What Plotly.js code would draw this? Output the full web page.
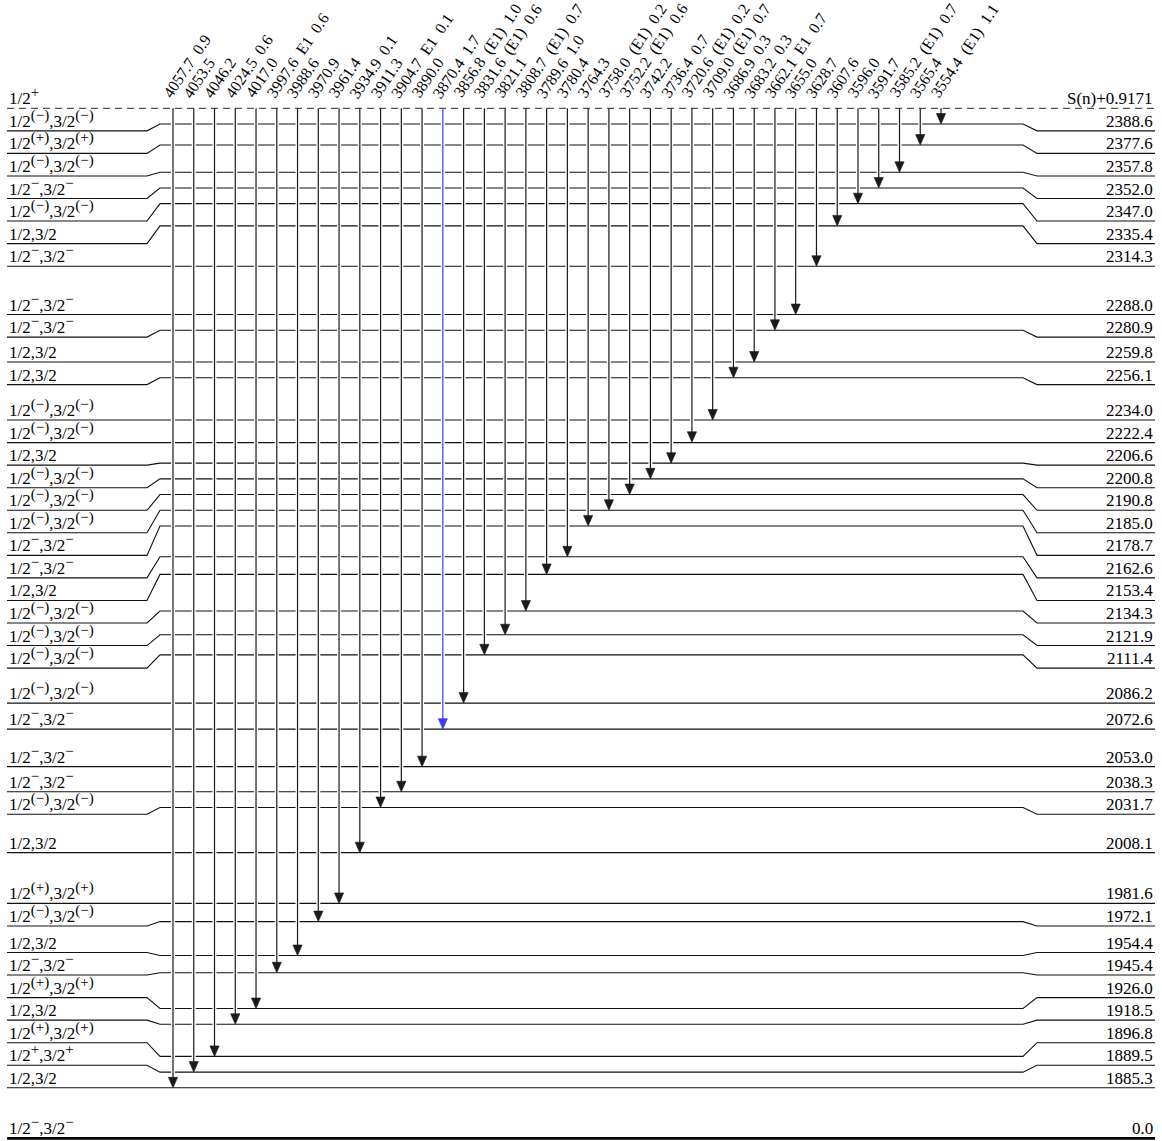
<!DOCTYPE html>
<html><head><meta charset="utf-8">
<script src="https://cdn.plot.ly/plotly-3.0.1.min.js"></script>
<style>html,body{margin:0;padding:0;background:#fff}</style>
</head><body><div id="chart" style="width:1162px;height:1141px"></div>
<script>
// ---------------- data ----------------
const levelEnergies = [2388.6, 2377.6, 2357.8, 2352.0, 2347.0, 2335.4, 2314.3, 2288.0, 2280.9, 2259.8,
  2256.1, 2234.0, 2222.4, 2206.6, 2200.8, 2190.8, 2185.0, 2178.7, 2162.6, 2153.4,
  2134.3, 2121.9, 2111.4, 2086.2, 2072.6, 2053.0, 2038.3, 2031.7, 2008.1, 1981.6,
  1972.1, 1954.4, 1945.4, 1926.0, 1918.5, 1896.8, 1889.5, 1885.3];
const levelParity = ['(−)', '(+)', '(−)', '−', '(−)', '', '−', '−', '−', '',
  '', '(−)', '(−)', '', '(−)', '(−)', '(−)', '−', '−', '',
  '(−)', '(−)', '(−)', '(−)', '−', '−', '−', '(−)', '', '(+)',
  '(−)', '', '−', '(+)', '', '(+)', '+', ''];
const groundEnergy = 0.0;
const groundParity = '−';
const captureLabel = 'S(n)+0.9171';
const captureParity = '+';

const gammaEnergies = [4057.7, 4053.5, 4046.2, 4024.5, 4017.0, 3997.6, 3988.6, 3970.9, 3961.4, 3934.9,
  3911.3, 3904.7, 3890.0, 3870.4, 3856.8, 3831.6, 3821.1, 3808.7, 3789.6, 3780.4,
  3764.3, 3758.0, 3752.2, 3742.2, 3736.4, 3720.6, 3709.0, 3686.9, 3683.2, 3662.1,
  3655.0, 3628.7, 3607.6, 3596.0, 3591.7, 3585.2, 3565.4, 3554.4];
const gammaMult = ['', '', '', '', '', 'E1', '', '', '', '',
  '', 'E1', '', '', '(E1)', '(E1)', '', '(E1)', '', '',
  '', '(E1)', '(E1)', '', '', '(E1)', '(E1)', '', '', 'E1',
  '', '', '', '', '', '(E1)', '', '(E1)'];
const gammaIntensity = ['0.9', '', '', '0.6', '', '0.6', '', '', '', '0.1',
  '', '0.1', '', '1.7', '1.0', '0.6', '', '0.7', '1.0', '',
  '', '0.2', '0.6', '', '0.7', '0.2', '0.7', '0.3', '0.3', '0.7',
  '', '', '', '', '', '0.7', '', '1.1'];
const gammaFinalLevels = [1885.3, 1889.5, 1896.8, 1918.5, 1926.0, 1945.4, 1954.4, 1972.1, 1981.6, 2008.1,
  2031.7, 2038.3, 2053.0, 2072.6, 2086.2, 2111.4, 2121.9, 2134.3, 2153.4, 2162.6,
  2178.7, 2185.0, 2190.8, 2200.8, 2206.6, 2222.4, 2234.0, 2256.1, 2259.8, 2280.9,
  2288.0, 2314.3, 2335.4, 2347.0, 2352.0, 2357.8, 2377.6, 2388.6];
const highlightedGamma = 3870.4;

// ---------------- layout parameters ----------------
const W = 1162, H = 1141;
const PX_PER_KEV = 1.915;
const MIN_LEVEL_GAP = 15.7 / PX_PER_KEV;
const MIN_LABEL_GAP = 22.55 / PX_PER_KEV;
const GROUND_BREAK = 50.6 / PX_PER_KEV;
const X_L0 = 7, X_LB = 147, X_LL = 160, X_RL = 1023, X_RB = 1037, X_R1 = 1155;
const GX0 = 173, GDX = 20.757;
const HEAD_LEN = 10.5 / PX_PER_KEV, HEAD_HALF = 4.6;
const SERIF = 'Liberation Serif, Times New Roman, serif';
const FONT = {family: SERIF, size: 17, color: '#000'};
const GFONT = {family: SERIF, size: 16, color: '#000'};
const BLUE = '#3a3aff', INK = '#1a1a1a';

function sup(p) { return '<sup><span style="font-size:15px">' + p + '</span></sup>'; }
function spinText(p) {
  return p === '' ? '1/2,3/2' : '1/2' + sup(p) + ',3/2' + sup(p);
}

// display positions of levels (enforce minimum spacing, bottom-up)
const N = levelEnergies.length;
const disp = new Array(N);
disp[N - 1] = levelEnergies[N - 1];
for (let k = N - 2; k >= 0; k--) disp[k] = Math.max(levelEnergies[k], disp[k + 1] + MIN_LEVEL_GAP);
const snDisp = disp[0] + MIN_LEVEL_GAP;
const groundDisp = disp[N - 1] - GROUND_BREAK;

// label positions: top-down push then bottom-up push
const lab = new Array(N);
let prev = snDisp;
for (let k = 0; k < N; k++) { lab[k] = Math.min(disp[k], prev - MIN_LABEL_GAP); prev = lab[k]; }
lab[N - 1] = Math.max(lab[N - 1], disp[N - 1]);
for (let k = N - 2; k >= 0; k--) lab[k] = Math.max(lab[k], lab[k + 1] + MIN_LABEL_GAP);

const yTop = disp[0] + 124 / PX_PER_KEV;
const yBot = yTop - H / PX_PER_KEV;

// ---------------- traces ----------------
const lx = [], ly = [];
for (let k = 0; k < N; k++) {
  lx.push(X_L0, X_LB, X_LL, X_RL, X_RB, X_R1, null);
  ly.push(lab[k], lab[k], disp[k], disp[k], lab[k], lab[k], null);
}
const traces = [];
traces.push({type: 'scatter', mode: 'lines', x: lx, y: ly, line: {color: '#111', width: 1.1}, hoverinfo: 'skip'});
traces.push({type: 'scatter', mode: 'lines', x: [X_L0, X_R1], y: [snDisp, snDisp],
  line: {color: '#555', width: 1.2, dash: '7px,5px'}, hoverinfo: 'skip'});
traces.push({type: 'scatter', mode: 'lines', x: [X_L0, X_R1], y: [groundDisp, groundDisp],
  line: {color: '#000', width: 2.6}, hoverinfo: 'skip'});

const wx = [], wy = [];
const g = {k: {x: [], y: [], hx: [], hy: []}, b: {x: [], y: [], hx: [], hy: []}};
const annotations = [];
gammaEnergies.forEach((e, i) => {
  const x = GX0 + i * GDX;
  const k = levelEnergies.indexOf(gammaFinalLevels[i]);
  const yEnd = disp[k];
  wx.push(x, x, null); wy.push(snDisp - 1.2, yEnd + 4, null);
  const s = (e === highlightedGamma) ? g.b : g.k;
  s.x.push(x, x, null); s.y.push(snDisp, yEnd + HEAD_LEN * 0.5, null);
  s.hx.push(x - HEAD_HALF, x + HEAD_HALF, x, x - HEAD_HALF, null);
  s.hy.push(yEnd + HEAD_LEN, yEnd + HEAD_LEN, yEnd, yEnd + HEAD_LEN, null);
  let t = e.toFixed(1);
  if (gammaMult[i]) t += '\u00a0 ' + gammaMult[i];
  if (gammaIntensity[i]) t += '\u00a0 ' + gammaIntensity[i];
  annotations.push({x: x, y: snDisp, xref: 'x', yref: 'y', text: t, showarrow: false,
    textangle: -56, xanchor: 'left', yanchor: 'bottom', xshift: -15, yshift: 6, borderpad: 0, font: GFONT});
});
traces.push({type: 'scatter', mode: 'lines', x: wx, y: wy, line: {color: '#fff', width: 4}, hoverinfo: 'skip'});
[['k', INK], ['b', BLUE]].forEach(([key, col]) => {
  traces.push({type: 'scatter', mode: 'lines', x: g[key].x, y: g[key].y, line: {color: col, width: 1.2}, hoverinfo: 'skip'});
  traces.push({type: 'scatter', mode: 'lines', x: g[key].hx, y: g[key].hy, fill: 'toself', fillcolor: col,
    line: {color: col, width: 0.6}, hoverinfo: 'skip'});
});

// level labels
function addLabels(y, left, right) {
  annotations.push({x: X_L0 + 1, y: y, xref: 'x', yref: 'y', text: left, showarrow: false,
    xanchor: 'left', yanchor: 'bottom', borderpad: 0, yshift: -1, font: FONT});
  annotations.push({x: X_R1 - 1, y: y, xref: 'x', yref: 'y', text: right, showarrow: false,
    xanchor: 'right', yanchor: 'bottom', borderpad: 0, yshift: -1, font: FONT});
}
for (let k = 0; k < N; k++) addLabels(lab[k], spinText(levelParity[k]), levelEnergies[k].toFixed(1));
addLabels(snDisp, '1/2' + sup(captureParity), captureLabel);
addLabels(groundDisp, spinText(groundParity), groundEnergy.toFixed(1));

const layout = {
  width: W, height: H, margin: {l: 0, r: 0, t: 0, b: 0, pad: 0},
  paper_bgcolor: '#fff', plot_bgcolor: '#fff', showlegend: false,
  xaxis: {range: [0, W], visible: false, fixedrange: true},
  yaxis: {range: [yBot, yTop], visible: false, fixedrange: true},
  annotations: annotations
};
Plotly.newPlot('chart', traces, layout, {staticPlot: true});
</script></body></html>
